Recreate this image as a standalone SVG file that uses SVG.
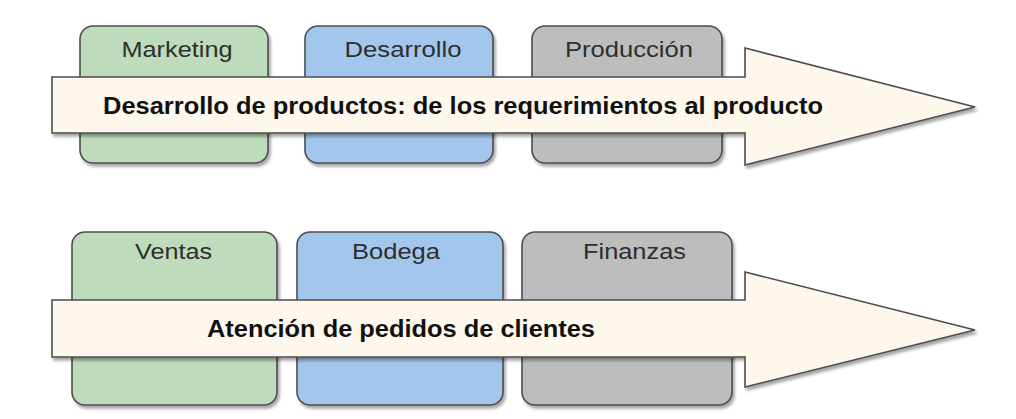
<svg xmlns="http://www.w3.org/2000/svg" width="1016" height="419" viewBox="0 0 1016 419">
<defs>
<filter id="sh" x="-10%" y="-10%" width="130%" height="130%">
<feDropShadow dx="2" dy="3" stdDeviation="1.5" flood-color="#000" flood-opacity="0.35"/>
</filter>
</defs>
<style>
.box{stroke:#4d4d4d;stroke-width:1.6;filter:url(#sh)}
.g{fill:#bedcbc}
.b{fill:#a3c7ec}
.k{fill:#bdbdbd}
.arrow{fill:#fdf7ec;stroke:#4d4d4d;stroke-width:1.6;filter:url(#sh)}
.lbl{font-family:"Liberation Sans",Arial,sans-serif;font-size:22px;fill:#2e2e2e;text-anchor:middle}
.ttl{font-family:"Liberation Sans",Arial,sans-serif;font-size:23px;font-weight:bold;fill:#111}
</style>
<rect width="1016" height="419" fill="#fff"/>
<g id="marketing"><rect class="box g" x="80" y="26" width="188" height="137" rx="13"/><text class="lbl" x="177" y="57" textLength="111" lengthAdjust="spacingAndGlyphs">Marketing</text></g>
<g id="desarrollo"><rect class="box b" x="305" y="26" width="188" height="137" rx="13"/><text class="lbl" x="403" y="57" textLength="117" lengthAdjust="spacingAndGlyphs">Desarrollo</text></g>
<g id="produccion"><rect class="box k" x="532" y="26" width="190" height="137" rx="13"/><text class="lbl" x="629" y="57" textLength="128" lengthAdjust="spacingAndGlyphs">Producción</text></g>
<g id="ventas"><rect class="box g" x="72" y="232" width="205" height="173" rx="13"/><text class="lbl" x="173.5" y="259" textLength="77" lengthAdjust="spacingAndGlyphs">Ventas</text></g>
<g id="bodega"><rect class="box b" x="297" y="232" width="206" height="173" rx="13"/><text class="lbl" x="396" y="259" textLength="88" lengthAdjust="spacingAndGlyphs">Bodega</text></g>
<g id="finanzas"><rect class="box k" x="522" y="232" width="210" height="173" rx="13"/><text class="lbl" x="634.5" y="259" textLength="103" lengthAdjust="spacingAndGlyphs">Finanzas</text></g>
<g id="connectors">
<g id="arrow-desarrollo-productos"><path class="arrow" d="M52,77 H745 V48 L975,107 L745,165 V133 H52 Z"/><text class="ttl" x="103" y="114" textLength="720" lengthAdjust="spacingAndGlyphs">Desarrollo de productos: de los requerimientos al producto</text></g>
<g id="arrow-atencion-pedidos"><path class="arrow" d="M52,300 H745 V272 L975,330 L745,387 V357 H52 Z"/><text class="ttl" x="207" y="337" textLength="388" lengthAdjust="spacingAndGlyphs">Atención de pedidos de clientes</text></g>
</g>
</svg>
